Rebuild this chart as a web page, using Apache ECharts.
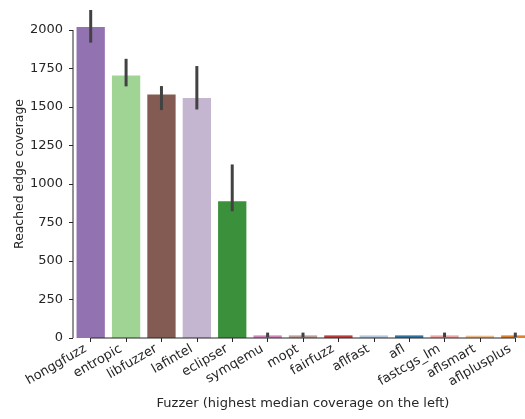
<!DOCTYPE html>
<html>
<head>
<meta charset="utf-8">
<script src="https://cdn.jsdelivr.net/npm/echarts@6/dist/echarts.min.js"></script>
<style>html,body{margin:0;padding:0;background:#fff}#c{width:525px;height:419px}</style>
</head>
<body>
<div id="c"></div>
<script>
const fuzzers = ['honggfuzz','entropic','libfuzzer','lafintel','eclipser','symqemu','mopt','fairfuzz','aflfast','afl','fastcgs_lm','aflsmart','aflplusplus'];
const coverage = [2019, 1705, 1582, 1558, 888, 17, 17, 17, 17, 17, 17, 15, 17];
const ciLow  = [1918, 1634, 1480, 1484, 823, 5, 5, 17, 17, 17, 5, 15, 5];
const ciHigh = [2130, 1813, 1636, 1766, 1127, 35, 35, 17, 17, 17, 35, 15, 35];
const yTicks = [0, 250, 500, 750, 1000, 1250, 1500, 1750, 2000];

const palette = ['#9372b2','#9fd495','#845b53','#c4b5d0','#3b913b','#d585bd','#bea09a','#c03d3e','#b5c8e1','#3274a1','#f2a5a3','#eebb89','#e1812c'];
const ink = '#262626';
const font = 'DejaVu Sans';

const chart = echarts.init(document.getElementById('c'), null, {renderer: 'canvas'});
chart.setOption({
  animation: false,
  backgroundColor: '#ffffff',
  grid: {left: 73, right: -8, top: 10, bottom: 81, containLabel: false, outerBoundsMode: 'none'},
  xAxis: {
    type: 'category',
    data: fuzzers,
    boundaryGap: true,
    name: 'Fuzzer (highest median coverage on the left)',
    nameLocation: 'middle',
    nameGap: 59,
    nameMoveOverlap: false,
    nameTextStyle: {fontFamily: font, fontSize: 13, color: ink},
    axisLine: {show: false},
    axisTick: {show: true, alignWithLabel: true, length: 4, lineStyle: {color: ink, width: 1}},
    axisLabel: {interval: 0, rotate: 30, fontFamily: font, fontSize: 13, color: ink, margin: 7, padding: [0, 6, 0, 0]},
    splitLine: {show: false}
  },
  yAxis: {
    type: 'value',
    min: 0,
    max: 2130,
    interval: 250,
    name: 'Reached edge coverage',
    nameLocation: 'middle',
    nameGap: 47,
    nameMoveOverlap: false,
    nameTextStyle: {fontFamily: font, fontSize: 12.4, color: ink},
    axisLine: {show: false},
    axisTick: {show: true, length: 4, lineStyle: {color: ink, width: 1}, customValues: yTicks},
    axisLabel: {fontFamily: font, fontSize: 13, color: ink, margin: 10, customValues: yTicks, formatter: v => String(v)},
    splitLine: {show: false}
  },
  series: [
    {
      type: 'bar',
      barWidth: '80%',
      data: coverage.map((v, i) => ({value: v, itemStyle: {color: palette[i]}})),
      z: 1
    },
    {
      type: 'custom',
      z: 5,
      data: fuzzers.map((f, i) => [i, ciLow[i], ciHigh[i]]),
      renderItem: function (params, api) {
        const lo = api.coord([api.value(0), api.value(1)]);
        const hi = api.coord([api.value(0), api.value(2)]);
        return {
          type: 'line',
          shape: {x1: lo[0], y1: lo[1], x2: hi[0], y2: hi[1]},
          style: {stroke: '#424242', lineWidth: 3, lineCap: 'butt'}
        };
      }
    },
    {
      type: 'custom',
      z: 4,
      data: [[0, 0]],
      renderItem: function (params, api) {
        const p0 = api.coord([0, 0]);
        const band = api.size([1, 0])[0];
        const pTop = api.coord([0, yTicks[yTicks.length - 1]]);
        const pLast = api.coord([fuzzers.length - 1, 0]);
        const xs = p0[0] - band / 2;
        return {
          type: 'group',
          children: [
            {type: 'line', shape: {x1: xs, y1: p0[1], x2: xs, y2: pTop[1]}, style: {stroke: ink, lineWidth: 1}},
            {type: 'line', shape: {x1: p0[0], y1: p0[1], x2: pLast[0], y2: p0[1]}, style: {stroke: ink, lineWidth: 1}}
          ]
        };
      }
    }
  ]
});
</script>
</body>
</html>
